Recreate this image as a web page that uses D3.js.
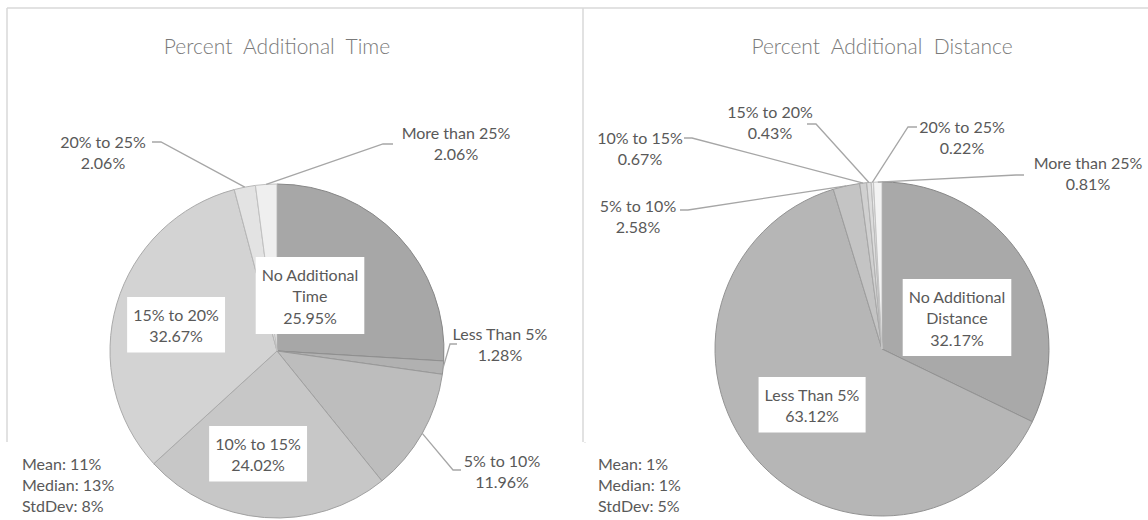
<!DOCTYPE html>
<html>
<head>
<meta charset="utf-8">
<script src="https://cdn.jsdelivr.net/npm/d3@7"></script>
<style>
  html, body { margin: 0; padding: 0; background: #fff; }
  svg { display: block; font-family: Lato, "Noto Sans", sans-serif; }
</style>
</head>
<body>
<div id="chart"></div>
<script>
// data
const timeCategories = ["No Additional Time", "Less Than 5%", "5% to 10%", "10% to 15%", "15% to 20%", "20% to 25%", "More than 25%"];
const timeValues = [25.95, 1.28, 11.96, 24.02, 32.67, 2.06, 2.06];
const timeStats = ["Mean: 11%", "Median: 13%", "StdDev: 8%"];

const distanceCategories = ["No Additional Distance", "Less Than 5%", "5% to 10%", "10% to 15%", "15% to 20%", "20% to 25%", "More than 25%"];
const distanceValues = [32.17, 63.12, 2.58, 0.67, 0.43, 0.22, 0.81];
const distanceStats = ["Mean: 1%", "Median: 1%", "StdDev: 5%"];

const WIDTH = 1148, HEIGHT = 520;
const RADIUS = 167;
const LINE_H = 21.5;

// label placement (layout only): inside boxes or outside with leader lines
const timeLayout = {
    title: "Percent  Additional  Time", cx: 277, cy: 351, statsX: 22,
    fills: ["#a7a7a7", "#b1b1b1", "#bdbdbd", "#c7c7c7", "#d3d3d3", "#e3e3e3", "#efefef"],
    labels: [
        { inside: true, x: 310, y: 274, lines: ["No Additional", "Time"] },
        { x: 500, y: 333, leader: [[450, 344], [457, 344]] },
        { x: 502, y: 460, leader: [[453, 470], [461, 470]] },
        { inside: true, x: 258, y: 443 },
        { inside: true, x: 176, y: 314 },
        { x: 103, y: 141, leader: [[161, 142], [152, 142]] },
        { x: 456, y: 132, leader: [[383, 144], [393, 144]] }
    ]
};

const distanceLayout = {
    title: "Percent  Additional  Distance", cx: 882, cy: 349, statsX: 598,
    fills: ["#a9a9a9", "#b6b6b6", "#c4c4c4", "#d0d0d0", "#dcdcdc", "#e8e8e8", "#f3f3f3"],
    labels: [
        { inside: true, x: 957, y: 296, lines: ["No Additional", "Distance"] },
        { inside: true, x: 812, y: 394 },
        { x: 638, y: 205, leader: [[688, 210], [680, 210]] },
        { x: 640, y: 137, leader: [[692, 138], [684, 138]] },
        { x: 770, y: 111, leader: [[816, 124], [807, 124]] },
        { x: 962, y: 126, leader: [[908, 127], [917, 127]] },
        { x: 1088, y: 162, leader: [[1016, 175], [1024, 175]] }
    ]
};

const svg = d3.select("#chart").append("svg")
    .attr("width", WIDTH)
    .attr("height", HEIGHT);

// chart frames
const frame = svg.append("g").attr("stroke", "#d9d9d9").attr("stroke-width", 1.5).attr("fill", "none");
frame.append("line").attr("x1", 7).attr("x2", WIDTH).attr("y1", 8).attr("y2", 8);
frame.append("line").attr("x1", 7).attr("x2", 7).attr("y1", 8).attr("y2", 442);
frame.append("line").attr("x1", 583).attr("x2", 583).attr("y1", 8).attr("y2", 442);
frame.append("line").attr("x1", 585).attr("x2", 585).attr("y1", 442).attr("y2", HEIGHT).attr("stroke", "#e6e6e6");

function fmt(v) { return d3.format(".2f")(v) + "%"; }

function drawPie(categories, values, stats, layout) {
    const g = svg.append("g");

    g.append("text")
        .attr("x", layout.cx)
        .attr("y", 45)
        .attr("text-anchor", "middle")
        .attr("dominant-baseline", "central")
        .attr("font-size", 21)
        .attr("font-weight", 300)
        .attr("fill", "#7a7a7a")
        .attr("xml:space", "preserve")
        .style("white-space", "pre")
        .text(layout.title);

    const pie = d3.pie().sort(null).value(d => d);
    const arcs = pie(values);
    const arc = d3.arc().innerRadius(0).outerRadius(RADIUS);
    const edge = d3.arc().innerRadius(RADIUS).outerRadius(RADIUS);

    const slices = g.append("g").attr("transform", `translate(${layout.cx},${layout.cy})`);
    slices.selectAll("path")
        .data(arcs)
        .enter()
        .append("path")
        .attr("d", arc)
        .attr("fill", (d, i) => layout.fills[i])
        .attr("stroke", (d, i) => d3.color(layout.fills[i]).darker(0.6))
        .attr("stroke-width", 1)
        .attr("stroke-linejoin", "round");

    // leader lines
    arcs.forEach((d, i) => {
        const lab = layout.labels[i];
        if (lab.inside) return;
        const [px, py] = edge.centroid(d);
        const pts = [[layout.cx + px, layout.cy + py]].concat(lab.leader);
        g.append("path")
            .attr("d", d3.line()(pts))
            .attr("fill", "none")
            .attr("stroke", "#a6a6a6")
            .attr("stroke-width", 1.3);
    });

    // data labels
    arcs.forEach((d, i) => {
        const lab = layout.labels[i];
        const lines = (lab.lines || [categories[i]]).concat([fmt(values[i])]);
        const lg = g.append("g");
        const txt = lg.append("text")
            .attr("text-anchor", "middle")
            .attr("font-size", 16)
            .attr("fill", "#595959");
        lines.forEach((s, k) => {
            txt.append("tspan")
                .attr("x", lab.x)
                .attr("y", lab.y + k * LINE_H)
                .attr("dominant-baseline", "central")
                .text(s);
        });
        if (lab.inside) {
            const bb = txt.node().getBBox();
            lg.insert("rect", "text")
                .attr("x", bb.x - 6)
                .attr("y", lab.y - 17)
                .attr("width", bb.width + 12)
                .attr("height", (lines.length - 1) * LINE_H + 34)
                .attr("fill", "#fff");
        }
    });

    // stats box
    const sb = g.append("g");
    sb.append("rect")
        .attr("x", layout.statsX - 14)
        .attr("y", 443)
        .attr("width", 110)
        .attr("height", HEIGHT - 443)
        .attr("fill", "#fff");
    sb.selectAll("text")
        .data(stats)
        .enter()
        .append("text")
        .attr("x", layout.statsX)
        .attr("y", (d, k) => 463 + k * 21)
        .attr("dominant-baseline", "central")
        .attr("font-size", 16)
        .attr("fill", "#595959")
        .text(d => d);
}

drawPie(timeCategories, timeValues, timeStats, timeLayout);
drawPie(distanceCategories, distanceValues, distanceStats, distanceLayout);
</script>
</body>
</html>
